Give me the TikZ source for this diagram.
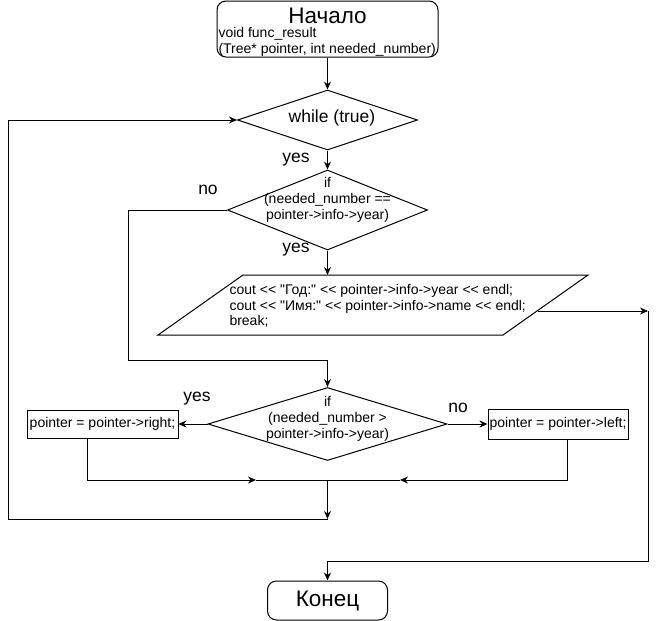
\documentclass[tikz,border=0pt]{standalone}
\usepackage{fontspec}
\setmainfont{Liberation Sans}[Ligatures=TeXOff]
\usetikzlibrary{shapes.geometric,arrows.meta}

\begin{document}
\begin{tikzpicture}[x=1pt,y=-1pt,line width=1pt,
		>={Stealth[length=8pt,width=7pt]},
		small/.style={font=\fontsize{14}{15.8}\selectfont,inner sep=0pt},
		big/.style={font=\fontsize{22.5}{25}\selectfont,inner sep=0pt},
		mid/.style={font=\fontsize{17.5}{20}\selectfont,inner sep=0pt},
		term/.style={draw,rounded corners=9pt,inner sep=0pt},
		decision/.style={draw,diamond,aspect=1,inner sep=0pt},
		procbox/.style={draw,inner sep=0pt}]
		\useasboundingbox (0,0) rectangle (656,621);
		\def\iobox{(243,275) -- (588,275) -- (503,335) -- (158,335) -- cycle}
		% blocks
		\node[term,minimum width=221,minimum height=56] (start) at (327.5,29) {};
		\node[big] at (327.5,16) {Начало};
		\node[small,align=left,anchor=west] at (218,41.5) {void func\_result\\(Tree* pointer, int needed\_number)};
		\node[decision,minimum width=180,minimum height=60] (while) at (327.5,120) {};
		\node[mid] at (332,118) {while (true)};
		\node[decision,minimum width=200,minimum height=80] (if1) at (327.5,210) {};
		\node[small,align=center] at (327.5,200) {if\\(needed\_number ==\\pointer->info->year)};
		\draw \iobox;
		\node[small,align=left,anchor=west] (outtxt) at (229,306) {cout << "Год:" << pointer->info->year << endl;\\cout << "Имя:" << pointer->info->name << endl;\\break;};
		\node[decision,minimum width=239,minimum height=73] (if2) at (327.5,424) {};
		\node[small,align=center] at (327.5,419) {if\\(needed\_number >\\pointer->info->year)};
		\node[procbox,small,minimum width=151,minimum height=28] (right) at (102.5,424) {pointer = pointer->right;};
		\node[procbox,small,minimum width=140,minimum height=30] (left) at (558,424) {pointer = pointer->left;};
		\node[term,big,minimum width=120,minimum height=39] (stop) at (327.5,600.5) {Конец};
		% labels
		\node[mid] at (296,160) {yes};
		\node[mid] at (208,190) {no};
		\node[mid] at (296,250) {yes};
		\node[mid] at (197,399) {yes};
		\node[mid] at (458,408) {no};
		% connectors
		\coordinate (iotop) at (327.5,275);
		\coordinate (ioout) at (538,311);
		\coordinate (exit) at (648,311);
		\coordinate (jl) at (256,480);
		\coordinate (jr) at (400,480);
		\coordinate (join) at (327.5,480);
		\coordinate (back) at (327.5,519);
		\draw[->] (start.south) -- (while.north);
		\draw[->] (while.south) -- (if1.north);
		\draw[->] (if1.south) -- (iotop);
		\draw[->] (if1.west) -| (128,360) -| (if2.north);
		\draw[->] (if2.west) -- (right.east);
		\draw[->] (if2.east) -- (left.west);
		\draw[->] ([xshift=-15.5pt]right.south) |- (jl);
		\draw (jl) -- (jr);
		\draw[->] ([xshift=9pt]left.south) |- (jr);
		\draw[->] (join) -- (back);
		\draw[->] (back) -- (8,519) |- (while.west);
		\draw[->] (ioout) -- (exit);
		\draw[->] (exit) -- (648,561) -| (stop.north);
	\end{tikzpicture}
\end{document}
